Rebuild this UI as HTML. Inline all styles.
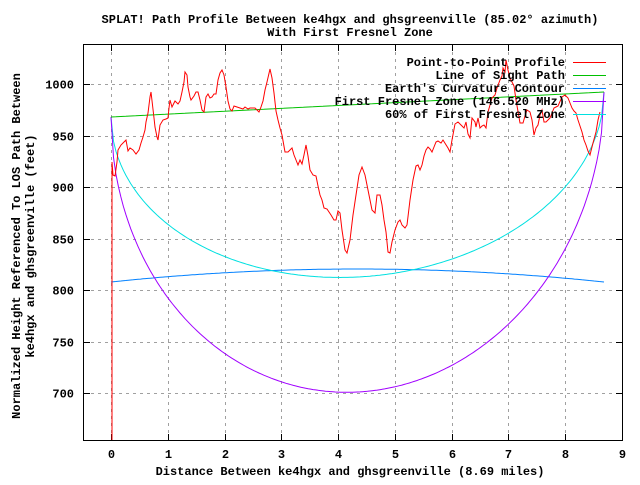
<!DOCTYPE html>
<html><head><meta charset="utf-8"><style>body{margin:0;background:#fff}svg text{font-family:"Liberation Mono",monospace;font-size:12px;fill:#000;font-weight:bold}</style></head>
<body>
<svg id="s" width="640" height="480" xmlns="http://www.w3.org/2000/svg">
<rect width="640" height="480" fill="#fff"/>
<g id="grid" stroke="#a0a0a0" stroke-dasharray="3,4" stroke-width="1"></g>
<rect x="83.5" y="44.5" width="539" height="396" fill="none" stroke="#000"/>
<g id="ticks" stroke="#000"></g>
<g id="lab"></g>
<text x="350" y="23" text-anchor="middle">SPLAT! Path Profile Between ke4hgx and ghsgreenville (85.02° azimuth)</text>
<text x="350" y="36" text-anchor="middle">With First Fresnel Zone</text>
<text x="350" y="475" text-anchor="middle">Distance Between ke4hgx and ghsgreenville (8.69 miles)</text>
<text transform="translate(20,246) rotate(-90)" text-anchor="middle">Normalized Height Referenced To LOS Path Between</text>
<text transform="translate(34,246) rotate(-90)" text-anchor="middle">ke4hgx and ghsgreenville (feet)</text>
<g id="curves" fill="none" stroke-width="1"></g>
<polyline fill="none" stroke="#ff0000" stroke-width="1" points="112,440 112,162 113,175 115,176 117,162 118,150 121,145 124,142 126,140 128,151 130,148 133,150 136,154 139,150 141,143 143,137 145,130 146,122 148,113 150,97 151,92 154,118 155,127 157,137 158,140 160,125 163,120 166,119 168,118 169,108 170,100 172,107 175,101 178,104 180,101 182,92 184,82 185,72 187,75 188,87 190,97 191,100 194,96 196,92 198,92 200,100 202,110 204,112 206,97 208,94 210,98 212,97 214,94 216,94 218,80 220,73 222,70 224,75 226,87 228,101 230,109 232,111 234,106 237,107 240,108 243,109 245,107 248,109 250,108 252,108 255,108 257,110 259,112 261,107 263,101 265,90 267,82 270,69 272,78 274,93 276,111 278,120 280,128 282,135 285,152 288,152 292,148 294,155 296,160 298,165 300,160 302,164 304,155 306,145 308,156 310,170 313,175 316,176 318,186 320,195 322,200 324,208 327,209 331,215 334,220 336,220 338,211 340,213 342,230 345,250 347,253 350,240 353,215 356,195 359,175 362,167 365,175 368,190 370,200 372,210 375,213 377,195 380,195 382,205 384,220 386,232 388,252 390,253 392,242 395,230 398,222 400,220 402,225 405,228 407,225 410,200 413,180 416,166 418,165 420,170 422,165 424,156 426,150 428,147 430,149 432,152 434,147 436,142 438,141 441,143 443,140 448,148 450,152 452,140 455,124 458,122 461,125 464,128 466,122 468,134 470,138 472,118 475,122 476,127 478,118 480,128 482,126 484,125 486,128 488,112 490,105 492,98 495,95 497,88 500,80 502,76 503,68 505,72 506,60 508,70 510,78 512,82 514,86 516,100 520,123 523,123 525,116 527,110 530,112 532,120 534,135 536,128 538,125 540,115 542,110 544,122 546,122 548,120 550,118 554,108 558,106 562,97 565,95 568,98 570,103 572,108 574,111 576,113 578,120 580,126 582,132 584,140 586,145 588,151 590,155 593,143 596,132 598,120 600,112"/>
<g id="leg"></g>
</svg>
<script>
const NS="http://www.w3.org/2000/svg";
function el(p,t,a,txt){const e=document.createElementNS(NS,t);for(const k in a)e.setAttribute(k,a[k]);if(txt!==undefined)e.textContent=txt;document.getElementById(p).appendChild(e);return e;}
const X=v=>111+v*56.78, Y=v=>393-(v-700)*1.03;
for(let i=0;i<=9;i++){const x=Math.round(X(i))+0.5;
 if(i<9)el('grid','line',{x1:x,x2:x,y1:45,y2:440});
 el('ticks','line',{x1:x,x2:x,y1:440,y2:434});el('ticks','line',{x1:x,x2:x,y1:45,y2:51});
 el('lab','text',{x:x,y:458,'text-anchor':'middle'},String(i));}
for(let v=700;v<=1000;v+=50){const y=Math.round(Y(v))+0.5;
 el('grid','line',{x1:84,x2:622,y1:y,y2:y});
 el('ticks','line',{x1:84,x2:90,y1:y,y2:y});el('ticks','line',{x1:622,x2:616,y1:y,y2:y});
 el('lab','text',{x:74,y:y+4,'text-anchor':'end'},String(v));}
const x0=111,x1=604,los0=117,los1=92;
function curve(col,f){let p=[];for(let i=0;i<=200;i++){const t=i/200;p.push((x0+(x1-x0)*t).toFixed(1)+','+f(t).toFixed(1));}el('curves','polyline',{points:p.join(' '),stroke:col});}
const los=t=>los0+(los1-los0)*t;
curve('#0080ff',t=>282-13*4*t*(1-t));
curve('#00e0e0',t=>los(t)+172.5*2*Math.sqrt(t*(1-t)));
curve('#a000ff',t=>los(t)+287.5*2*Math.sqrt(t*(1-t)));
curve('#00c000',t=>los(t));
const L=[["Point-to-Point Profile","#ff0000"],["Line of Sight Path","#00c000"],["Earth's Curvature Contour","#0080ff"],["First Fresnel Zone (146.520 MHz)","#a000ff"],["60% of First Fresnel Zone","#00e0e0"]];
L.forEach((l,i)=>{const y=62+i*13;el('leg','text',{x:565,y:y+4,'text-anchor':'end'},l[0]);el('leg','line',{x1:573,x2:606,y1:y+0.5,y2:y+0.5,stroke:l[1]});});
</script>
</body></html>
